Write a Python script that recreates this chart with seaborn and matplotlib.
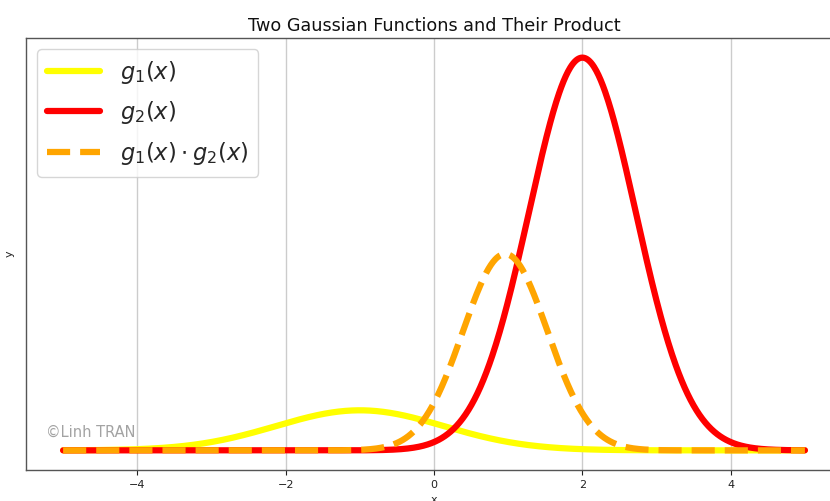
import numpy as np
import pandas as pd
import matplotlib
matplotlib.use("Agg")
import matplotlib.pyplot as plt
import seaborn as sns

# Parameters (centre, width, peak height in y units)
labels = [r"$g_1(x)$", r"$g_2(x)$", r"$g_1(x) \cdot g_2(x)$"]
centres = [-1.0, 2.0, 0.96]
widths = [1.13, 0.72, 0.57]
peaks = [0.102, 1.0, 0.50]
colors = ["yellow", "red", "orange"]
styles = ["-", "-", "--"]
x_range = [-5.0, 5.0]
x_ticks = [-4, -2, 0, 2, 4]

x = np.linspace(x_range[0], x_range[1], 1000)

sns.set_theme(style="white")
plt.rcParams["font.family"] = ["DejaVu Sans"]
plt.rcParams["mathtext.fontset"] = "dejavusans"

fig = plt.figure(figsize=(8.30, 5.01), dpi=100)
ax = fig.add_axes([26 / 830, 31 / 501, 816 / 830, 432 / 501])

for lab, c, w, p, col, ls in zip(labels, centres, widths, peaks, colors, styles):
    df = pd.DataFrame({"x": x, "y": p * np.exp(-((x - c) ** 2) / (2 * w ** 2))})
    sns.lineplot(data=df, x="x", y="y", ax=ax, color=col, linestyle=ls,
                 linewidth=4.5, label=lab)

ax.set_xticks(x_ticks)
ax.set_xticklabels([f"{t}" if t >= 0 else f"\u2212{abs(t)}" for t in x_ticks])
ax.set_yticks([])
ax.tick_params(axis="x", labelsize=8, length=3.5, width=0.8, colors="#222222",
               bottom=True)
ax.grid(True, axis="x", color="#cccccc", linewidth=1)
ax.set_axisbelow(True)
for s in ax.spines.values():
    s.set_color("#555555")
    s.set_linewidth(1.0)
ax.set_xlabel("x", fontsize=8, labelpad=4)
ax.set_ylabel("y", fontsize=8, labelpad=8)
ax.set_title("Two Gaussian Functions and Their Product", fontsize=12.7,
             color="#111111", pad=5)

leg = ax.legend(loc="upper left", fontsize=16.3, handlelength=2.35,
                frameon=True, framealpha=0.8, edgecolor="#cccccc",
                borderpad=0.42, labelspacing=0.6, fancybox=True,
                handletextpad=0.9)

ax.text(0.024, 0.07, "\u00a9Linh TRAN", transform=ax.transAxes,
        fontsize=10.5, color="#999999", alpha=0.9, ha="left", va="bottom")

fig.savefig("out.png", dpi=100)
